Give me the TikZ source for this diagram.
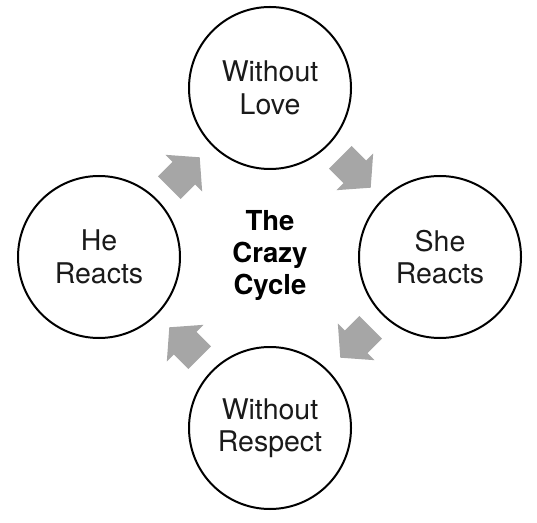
\documentclass[tikz,border=0pt]{standalone}
\usepackage{fontspec}
\setmainfont{TeX Gyre Heros}
\definecolor{arrowgray}{HTML}{A6A6A6}
\definecolor{textdark}{HTML}{1A1A1A}
\begin{document}
\begin{tikzpicture}[x=1pt,y=1pt,
  stage/.style={circle,draw=black,line width=2pt,minimum size=162pt,inner sep=0pt,
    align=center,text=textdark,font=\fontsize{28.5}{32.5}\selectfont},
  title/.style={align=center,text=black,font=\fontsize{27.5}{32}\selectfont\bfseries},
  cyclearrow/.style={fill=arrowgray}]
\useasboundingbox (0,0) rectangle (537,522);
\node[stage] (love) at (270,434) {Without\\Love};
\node[stage] (she) at (440,265) {She\\Reacts};
\node[stage] (respect) at (270,94) {Without\\Respect};
\node[stage] (he) at (99,265) {He\\Reacts};
\node[title] (center) at (270,267) {The\\Crazy\\Cycle};
\foreach \px/\py/\ang in {184.5/349.5/45, 355.5/349.5/-45, 355.5/179.5/-135, 184.5/179.5/135}{
  \fill[cyclearrow,shift={(\px,\py)},rotate=\ang]
    (-21.5,-16) -- (-1,-16) -- (-1,-26) -- (21.5,0) -- (-1,26) -- (-1,16) -- (-21.5,16) -- cycle;
}
\end{tikzpicture}
\end{document}
